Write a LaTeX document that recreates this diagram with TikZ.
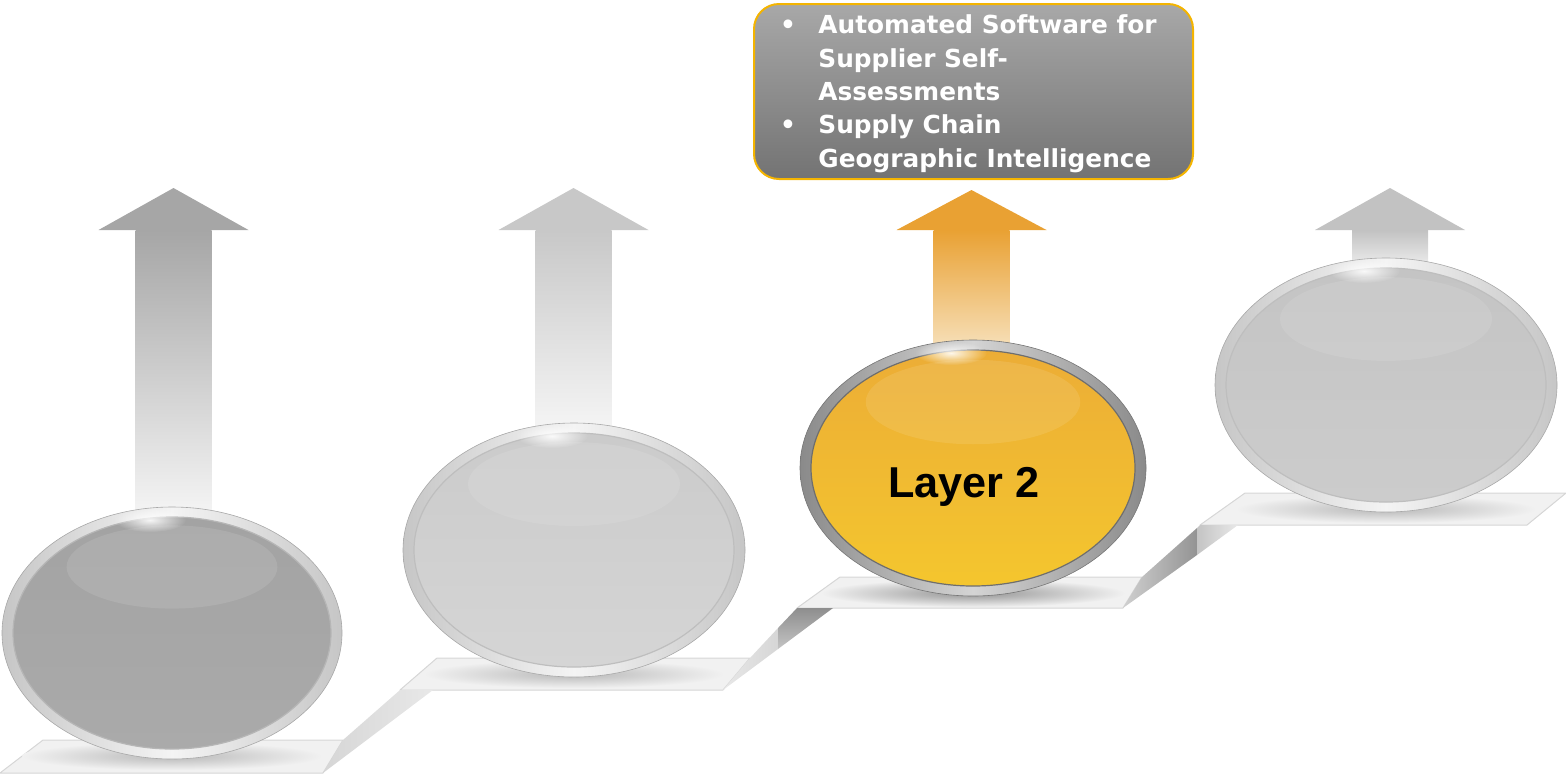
\documentclass[tikz,border=0pt]{standalone}
\usepackage{fontspec}
\setmainfont{Liberation Sans}
\newfontfamily\boxfont{DejaVu Sans}
\usetikzlibrary{fadings}
\tikzfading[name=softspot, inner color=transparent!0, outer color=transparent!100]
\definecolor{platA}{HTML}{F1F1F1}
\definecolor{platEdge}{HTML}{D6D6D6}
\definecolor{riseA}{HTML}{E8E8E8}
\definecolor{riseL}{HTML}{D6D6D6}
\definecolor{riseD}{HTML}{8E8E8E}
\definecolor{riseM}{HTML}{C4C4C4}
\definecolor{shadowC}{HTML}{B8B8B8}
\definecolor{headA}{HTML}{A6A6A6}
\definecolor{headB}{HTML}{C8C8C8}
\definecolor{headC}{HTML}{E9A133}
\definecolor{headD}{HTML}{C2C2C2}
\definecolor{fadeW}{HTML}{F6F6F6}
\definecolor{fadeC}{HTML}{F7E2BE}
\definecolor{rimS}{HTML}{C6C6C6}
\definecolor{rimM}{HTML}{F4F4F4}
\definecolor{rimY}{HTML}{8A8A8A}
\definecolor{rimYM}{HTML}{D4D4D4}
\definecolor{inAt}{HTML}{A3A3A3}
\definecolor{inAb}{HTML}{AAAAAA}
\definecolor{inAe}{HTML}{B6B6B6}
\definecolor{inBt}{HTML}{CBCBCB}
\definecolor{inBb}{HTML}{D5D5D5}
\definecolor{inBe}{HTML}{BEBEBE}
\definecolor{inCt}{HTML}{ECAD36}
\definecolor{inCb}{HTML}{F4C62E}
\definecolor{inCe}{HTML}{6E6E6E}
\definecolor{inDt}{HTML}{C4C4C4}
\definecolor{inDb}{HTML}{CCCCCC}
\definecolor{boxLine}{HTML}{F4B400}
\definecolor{boxTop}{HTML}{A8A8A8}
\definecolor{boxBot}{HTML}{737373}
\newcommand\myorb[9]{%
  \shadedraw[left color=#5, right color=#5, middle color=#6, draw=#5!85!black, line width=0.3pt]
    (#1,#2) ellipse [x radius={#3*0.5pt}, y radius={#4*0.5pt}];
  \shadedraw[top color=#7, bottom color=#8, draw=#9, line width=0.6pt]
    (#1,#2) ellipse [x radius={(#3-11)*0.5pt}, y radius={(#4-10)*0.5pt}];
  \fill[white, opacity=0.10]
    (#1,{#2-66}) ellipse [x radius={0.62*#3*0.5pt}, y radius={0.33*#4*0.5pt}];
  \fill[white, opacity=0.9, path fading=softspot]
    ({#1-22},{#2-#4+13}) ellipse [x radius=18pt, y radius=6pt];
}
\newcommand\myarrow[5]{%
  \shade[top color=#4, bottom color=#5] ({#1-38},230) rectangle ({#1+38},#3);
  \fill[#4] ({#1-75},230) -- (#1,#2) -- ({#1+75},230) -- cycle;
}
\tikzset{
  plat/.style={fill=platA, draw=platEdge, line width=0.5pt, line join=round},
  boxstyle/.style={draw=boxLine, line width=1pt, rounded corners=12.5pt,
    top color=boxTop, bottom color=boxBot, inner sep=0pt},
  boxtext/.style={text=white, font=\boxfont\bfseries\fontsize{12.4}{15}\selectfont, inner sep=0pt},
  layertext/.style={text=black, font=\bfseries\fontsize{21.6}{26}\selectfont, inner sep=0pt}
}
\begin{document}
\begin{tikzpicture}[x=0.5pt,y=-0.5pt]
\useasboundingbox (0,0) rectangle (1566,778);
% platforms
\path[plat] (0,773) -- (43,740) -- (343,740) -- (323,773) -- cycle;
\path[plat] (400,690) -- (437,658) -- (750,658) -- (723,690) -- cycle;
\path[plat] (797,608) -- (840,577) -- (1142,577) -- (1123,608) -- cycle;
\path[plat] (1200,525) -- (1245,493) -- (1566,493) -- (1527,525) -- cycle;
% risers
\shade[left color=riseL, right color=riseA] (323,773) -- (343,740) -- (400,690) -- (433,690) -- cycle;
\shade[left color=riseA, right color=riseL] (723,690) -- (750,658) -- (778,628) -- (778,649) -- cycle;
\shade[top color=riseD, bottom color=riseM] (778,628) -- (797,608) -- (833,608) -- (778,649) -- cycle;
\shade[left color=riseM!80!white, right color=riseD!95!white] (1123,608) -- (1142,577) -- (1197,528) -- (1197,555) -- cycle;
\shade[left color=riseM, right color=riseA] (1197,528) -- (1200,525) -- (1238,525) -- (1197,555) -- cycle;
% shadows
\shade[inner color=shadowC, outer color=platA] (172,756) ellipse [x radius=75pt, y radius=7pt];
\shade[inner color=shadowC, outer color=platA] (574,674) ellipse [x radius=75pt, y radius=7pt];
\shade[inner color=shadowC!80!black, outer color=platA] (973,593) ellipse [x radius=76pt, y radius=7pt];
\shade[inner color=shadowC, outer color=platA] (1386,509) ellipse [x radius=75pt, y radius=7pt];
% arrows
\myarrow{173.5}{188}{520}{headA}{fadeW}
\myarrow{573.5}{188}{435}{headB}{fadeW}
\myarrow{971.5}{190}{352}{headC}{fadeC}
\myarrow{1390}{188}{272}{headD}{rimM}
% orbs
\myorb{172}{633}{170}{126}{rimS}{rimM}{inAt}{inAb}{inAe}
\myorb{574}{550}{171}{127}{rimS}{rimM}{inBt}{inBb}{inBe}
\myorb{973}{468}{173}{128}{rimY}{rimYM}{inCt}{inCb}{inCe}
\myorb{1386}{385}{171}{127}{rimS}{rimM}{inDt}{inDb}{inBe}
\node[layertext, anchor=base] (layer) at (964,497) {Layer 2};
% text box
\node[boxstyle, anchor=north west, minimum width=219.5pt, minimum height=87.5pt] (box) at (753,3) {};
\node[boxtext, anchor=base] (b1) at (788,33) {•};
\node[boxtext, anchor=base] (b2) at (788,133) {•};
\node[boxtext, anchor=base west] (l1) at (818,33) {Automated Software for};
\node[boxtext, anchor=base west] (l2) at (818,67) {Supplier Self-};
\node[boxtext, anchor=base west] (l3) at (818,100) {Assessments};
\node[boxtext, anchor=base west] (l4) at (818,133) {Supply Chain};
\node[boxtext, anchor=base west] (l5) at (818,167) {Geographic Intelligence};
\end{tikzpicture}
\end{document}
